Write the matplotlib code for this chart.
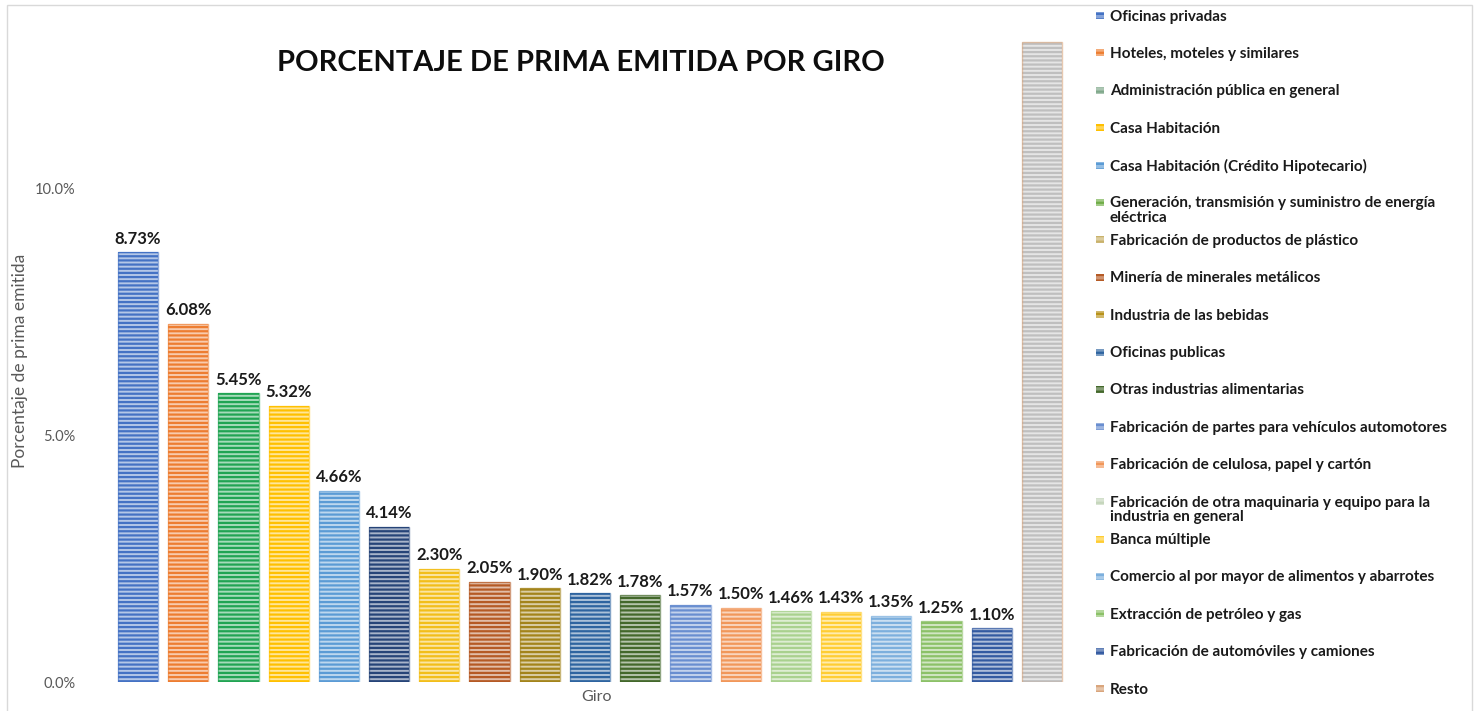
import numpy as np
import matplotlib.pyplot as plt
from matplotlib.patches import Rectangle
from matplotlib.colors import to_rgb

plt.rcParams['font.family'] = ['Lato', 'DejaVu Sans']
plt.rcParams['hatch.linewidth'] = 1.6

# datos
giros = ['Oficinas privadas', 'Hoteles, moteles y similares',
         'Administración pública en general', 'Casa Habitación',
         'Casa Habitación (Crédito Hipotecario)',
         'Generación, transmisión y suministro de energía\neléctrica',
         'Fabricación de productos de plástico',
         'Minería de minerales metálicos', 'Industria de las bebidas',
         'Oficinas publicas', 'Otras industrias alimentarias',
         'Fabricación de partes para vehículos automotores',
         'Fabricación de celulosa, papel y cartón',
         'Fabricación de otra maquinaria y equipo para la\nindustria en general',
         'Banca múltiple', 'Comercio al por mayor de alimentos y abarrotes',
         'Extracción de petróleo y gas',
         'Fabricación de automóviles y camiones', 'Resto']
alturas = [8.70, 7.25, 5.85, 5.59, 3.87, 3.14, 2.29, 2.03, 1.90, 1.80,
           1.76, 1.56, 1.50, 1.43, 1.42, 1.34, 1.23, 1.09, 12.96]
etiquetas = ['8.73%', '6.08%', '5.45%', '5.32%', '4.66%', '4.14%', '2.30%',
             '2.05%', '1.90%', '1.82%', '1.78%', '1.57%', '1.50%', '1.46%',
             '1.43%', '1.35%', '1.25%', '1.10%', '']
colores = ['#4472C4', '#ED7D31', '#21A453', '#FFC000', '#5B9BD5', '#264478',
           '#F2BE1A', '#B55A25', '#A3841B', '#2E64A0', '#43682B', '#698ED0',
           '#F1975A', '#A9D18E', '#FFCD33', '#7CAFDD', '#8CC168', '#335AA1',
           '#BFBFBF']
bordes = colores[:-1] + ['#D9A57C']
colores_leyenda = ['#4472C4', '#ED7D31', '#7FA88A', '#FFC000', '#5B9BD5',
                   '#70AD47', '#C9B26B', '#B55A25', '#B8921A', '#2E64A0',
                   '#43682B', '#698ED0', '#F1975A', '#C5D6BC', '#FFCD33',
                   '#7CAFDD', '#8CC168', '#335AA1', '#D9A57C']


def aclarar(c, f=0.6):
    r = np.array(to_rgb(c))
    return tuple(r + (1 - r) * f)


W, H = 1478, 711
fig = plt.figure(figsize=(W / 100, H / 100), dpi=100)
ax = fig.add_axes([113 / W, 1 - 682 / H, 954 / W, 642 / H])

x = np.arange(len(giros))
for i in x:
    ax.bar(i, alturas[i], width=0.8, color=aclarar(colores[i]),
           edgecolor=colores[i], hatch='----', linewidth=0)
    ax.bar(i, alturas[i], width=0.8, fill=False, edgecolor=bordes[i],
           linewidth=1.0, alpha=0.6)
    if etiquetas[i]:
        ax.annotate(etiquetas[i], (i, alturas[i]), xytext=(0, 4),
                    textcoords='offset points', ha='center', va='bottom',
                    fontsize=12, fontweight='bold', color='#1a1a1a')

ax.set_xlim(-0.5, len(giros) - 0.5)
ax.set_ylim(0, 13.0)
ax.set_yticks([0, 5, 10])
ax.set_yticklabels(['0.0%', '5.0%', '10.0%'])
ax.set_xticks([])
ax.tick_params(axis='y', length=0, pad=27, labelsize=10.5, labelcolor='#595959')
for s in ax.spines.values():
    s.set_visible(False)

ax.set_ylabel('Porcentaje de prima emitida', fontsize=12.5, color='#595959')
ax.yaxis.set_label_coords(-0.089, 0.5)
ax.set_xlabel('Giro', fontsize=11.5, color='#595959')
ax.xaxis.set_label_coords(0.507, -0.012)

fig.text(581 / W, 1 - 63 / H, 'PORCENTAJE DE PRIMA EMITIDA POR GIRO',
         ha='center', va='center', fontsize=21, fontweight='bold',
         color='#0d0d0d')

# leyenda manual, separacion uniforme
for i, (nombre, c) in enumerate(zip(giros, colores_leyenda)):
    y = 16 + i * 37.4
    fig.patches.append(Rectangle((1096 / W, 1 - (y + 3) / H), 8 / W, 7 / H,
                                 transform=fig.transFigure,
                                 facecolor=aclarar(c, 0.35), edgecolor=c,
                                 hatch='---', linewidth=0))
    fig.text(1110 / W, 1 - (y - 6.5) / H, nombre, ha='left', va='top',
             fontsize=11, fontweight='bold', color='#1a1a1a', linespacing=1.05)

# borde del grafico
fig.patches.append(Rectangle((7 / W, -0.01), 1465 / W, 1 - 5 / H + 0.01,
                             transform=fig.transFigure, fill=False,
                             edgecolor='#d9d9d9', linewidth=1))

fig.savefig('out.png', dpi=100)
